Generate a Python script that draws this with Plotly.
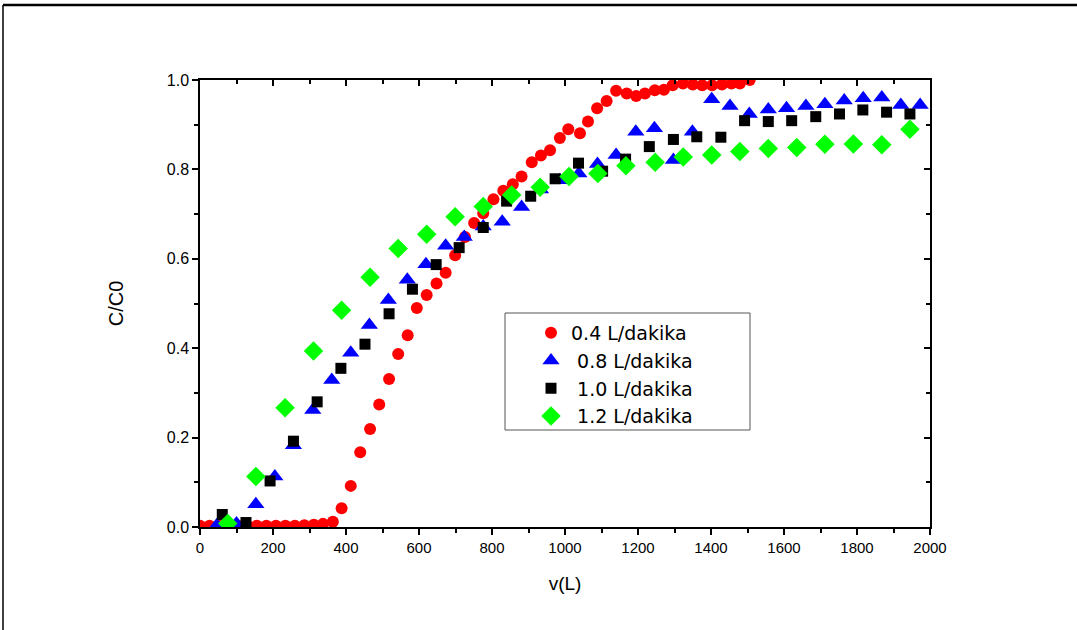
import plotly.graph_objects as go

# 0.4 L/dakika
x_04 = [0, 26, 52, 78, 104, 130, 156, 182, 208, 234, 260, 286, 312, 337, 364, 388, 413, 439, 466, 491,
        518, 543, 569, 594, 621, 648, 673, 699, 726, 751, 776, 804, 831, 857, 881, 909, 934, 959,
        986, 1009, 1041, 1063, 1088, 1114, 1140, 1169, 1195, 1219, 1246, 1271, 1295, 1323, 1350,
        1376, 1403, 1430, 1456, 1479, 1506]
y_04 = [0.003, 0.003, 0.003, 0.003, 0.003, 0.003, 0.003, 0.003, 0.003, 0.003, 0.003, 0.004, 0.005, 0.007,
        0.012, 0.042, 0.092, 0.167, 0.219, 0.274, 0.331, 0.387, 0.429, 0.490, 0.519, 0.545, 0.569,
        0.608, 0.649, 0.680, 0.702, 0.733, 0.752, 0.767, 0.784, 0.816, 0.831, 0.843, 0.870, 0.890,
        0.881, 0.907, 0.937, 0.953, 0.976, 0.970, 0.964, 0.970, 0.977, 0.978, 0.988, 0.992, 0.990,
        0.988, 0.988, 0.990, 0.992, 0.992, 1.0]

# 0.8 L/dakika
x_08 = [46, 100, 153, 205, 256, 309, 361, 413, 464, 516, 568, 619, 673, 724, 776, 828, 881, 933, 986,
        1038, 1089, 1140, 1194, 1245, 1297, 1349, 1402, 1452, 1505, 1557, 1607, 1660, 1712, 1765,
        1817, 1868, 1920, 1973]
y_08 = [0.004, 0.008, 0.051, 0.113, 0.183, 0.262, 0.329, 0.390, 0.452, 0.508, 0.553, 0.588, 0.629,
        0.649, 0.672, 0.683, 0.716, 0.755, 0.776, 0.791, 0.812, 0.832, 0.884, 0.892, 0.821, 0.884,
        0.957, 0.942, 0.924, 0.934, 0.937, 0.942, 0.946, 0.954, 0.959, 0.961, 0.944, 0.944]

# 1.0 L/dakika
x_10 = [61, 126, 192, 256, 321, 386, 452, 518, 582, 647, 710, 776, 840, 906, 973, 1037, 1103, 1166,
        1231, 1297, 1361, 1427, 1492, 1557, 1621, 1687, 1752, 1816, 1881, 1945]
y_10 = [0.028, 0.010, 0.103, 0.192, 0.280, 0.355, 0.409, 0.477, 0.532, 0.587, 0.625, 0.670, 0.729,
        0.740, 0.779, 0.814, 0.796, 0.823, 0.851, 0.867, 0.873, 0.872, 0.909, 0.907, 0.909, 0.918,
        0.924, 0.933, 0.928, 0.924]

# 1.2 L/dakika
x_12 = [76, 153, 233, 311, 388, 466, 543, 621, 699, 776, 854, 932, 1011, 1090, 1167, 1247, 1324,
        1402, 1479, 1557, 1635, 1712, 1790, 1868, 1945]
y_12 = [0.008, 0.113, 0.267, 0.394, 0.485, 0.559, 0.623, 0.655, 0.694, 0.717, 0.743, 0.760, 0.784,
        0.791, 0.808, 0.816, 0.828, 0.832, 0.840, 0.847, 0.849, 0.856, 0.857, 0.855, 0.890]

names = ["0.4 L/dakika", " 0.8 L/dakika", " 1.0 L/dakika", " 1.2 L/dakika"]

FONT = "Liberation Sans, Arial, sans-serif"
LEG_FONT = "DejaVu Sans, Liberation Sans, sans-serif"

fig = go.Figure()
fig.add_trace(go.Scatter(x=x_04, y=y_04, mode="markers", name=names[0],
                         marker=dict(symbol="circle", size=12, color="#FF0000")))
fig.add_trace(go.Scatter(x=x_08, y=y_08, mode="markers", name=names[1],
                         marker=dict(symbol="triangle-up", size=15, color="#0000FF")))
fig.add_trace(go.Scatter(x=x_10, y=y_10, mode="markers", name=names[2],
                         marker=dict(symbol="square", size=11, color="#000000")))
fig.add_trace(go.Scatter(x=x_12, y=y_12, mode="markers", name=names[3],
                         marker=dict(symbol="diamond", size=15, color="#00FF00")))
# empty trace to create the mirrored top/right axes with inward ticks
fig.add_trace(go.Scatter(x=[], y=[], xaxis="x2", yaxis="y2", showlegend=False, hoverinfo="skip"))

axis_common = dict(showgrid=False, zeroline=False, showline=True, linecolor="black", linewidth=1.5,
                   tickcolor="black", tickwidth=1.5, ticklen=6)

fig.update_layout(
    width=1077, height=630,
    paper_bgcolor="white", plot_bgcolor="white",
    margin=dict(l=200, r=147, t=80, b=103),
    font=dict(family=FONT, color="black"),
    xaxis=dict(range=[0, 2000], dtick=200, ticks="outside",
               tickfont=dict(family=FONT, size=15, color="black"),
               minor=dict(dtick=100, ticks="outside", ticklen=4, tickcolor="black", tickwidth=1.5),
               title=dict(text="v(L)", font=dict(family=FONT, size=19), standoff=22),
               **axis_common),
    yaxis=dict(range=[0, 1.0], dtick=0.2, tickformat=".1f", ticks="outside",
               tickfont=dict(family=FONT, size=16, color="black"),
               minor=dict(dtick=0.1, ticks="outside", ticklen=4, tickcolor="black", tickwidth=1.5),
               title=dict(text="C/C0", font=dict(family=FONT, size=20), standoff=38),
               **axis_common),
    xaxis2=dict(range=[0, 2000], dtick=200, ticks="inside", overlaying="x", side="top",
                showticklabels=False, anchor="y2",
                minor=dict(dtick=100, ticks="inside", ticklen=4, tickcolor="black", tickwidth=1.5),
                **axis_common),
    yaxis2=dict(range=[0, 1.0], dtick=0.2, ticks="inside", overlaying="y", side="right",
                showticklabels=False, anchor="x2",
                minor=dict(dtick=0.1, ticks="inside", ticklen=4, tickcolor="black", tickwidth=1.5),
                **axis_common),
    legend=dict(x=(531 - 200) / 730, y=(527 - 314) / 447, xanchor="left", yanchor="top",
                borderwidth=0, bgcolor="rgba(0,0,0,0)",
                font=dict(family=LEG_FONT, size=19, color="black"),
                itemsizing="trace", tracegroupgap=0),
    showlegend=True,
)

# legend frame
fig.add_shape(type="rect", xref="paper", yref="paper", layer="below",
              x0=(505 - 200) / 730, x1=(750 - 200) / 730, y0=(527 - 430) / 447, y1=(527 - 313) / 447,
              line=dict(color="#555555", width=1), fillcolor="white")

# outer frame of the picture
fig.add_shape(type="line", xref="paper", yref="paper",
              x0=(3 - 200) / 730, x1=(1077 - 200) / 730, y0=(527 - 5) / 447, y1=(527 - 5) / 447,
              line=dict(color="black", width=2.5))
fig.add_shape(type="line", xref="paper", yref="paper",
              x0=(3 - 200) / 730, x1=(3 - 200) / 730, y0=(527 - 5) / 447, y1=(527 - 632) / 447,
              line=dict(color="black", width=1.5))

fig.write_html("out.html")
